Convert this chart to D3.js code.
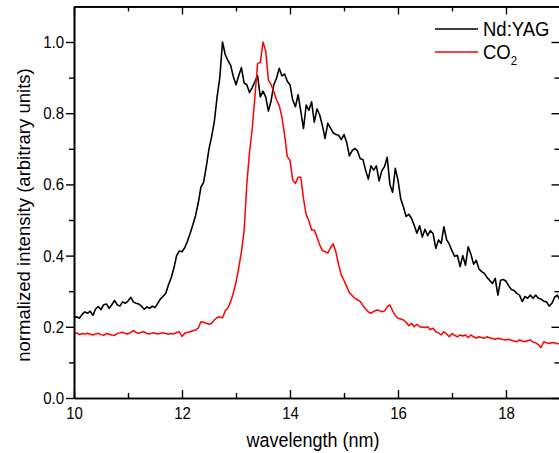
<!DOCTYPE html>
<html><head><meta charset="utf-8">
<script src="https://cdn.jsdelivr.net/npm/d3@7"></script>
<style>
body{margin:0;background:#fff;}
svg{display:block;}
text{font-family:"Liberation Sans",Arial,Helvetica,sans-serif;fill:#000;}
</style>
</head><body>
<svg id="chart" width="559" height="453"></svg>
<script>
// ---- data ----
const xTickValues = [10, 12, 14, 16, 18];
const yTickValues = [0.0, 0.2, 0.4, 0.6, 0.8, 1.0];
const seriesNames = ["Nd:YAG", "CO2"];
const seriesColors = ["#000000", "#ff0000"];
const wavelengthStart = 10;
const wavelengthStep = 0.05;

// Nd:YAG, 10.00 .. 19.00 nm every 0.05 nm
const ndyag = [
 0.225,0.228,0.224,0.235,0.242,0.238,0.244,0.232,0.250,0.257,0.248,0.262,0.264,0.252,0.262,0.274,0.262,0.258,0.270,0.266,
 0.272,0.283,0.270,0.266,0.264,0.258,0.249,0.256,0.252,0.258,0.254,0.266,0.278,0.286,0.294,0.318,0.338,0.365,0.400,0.413,
 0.411,0.422,0.440,0.462,0.486,0.512,0.547,0.592,0.606,0.650,0.700,0.735,0.778,0.846,0.900,1.000,0.965,0.948,0.935,0.903,
 0.880,0.905,0.928,0.885,0.880,0.858,0.872,0.889,0.905,0.846,0.862,0.846,0.806,0.835,0.880,0.898,0.926,0.905,0.910,0.890,
 0.880,0.837,0.818,0.852,0.805,0.757,0.823,0.808,0.832,0.775,0.812,0.795,0.765,0.729,0.772,0.758,0.745,0.740,0.738,0.726,
 0.740,0.718,0.680,0.695,0.701,0.694,0.672,0.670,0.640,0.615,0.652,0.640,0.652,0.610,0.638,0.650,0.676,0.600,0.578,0.645,
 0.612,0.560,0.537,0.510,0.516,0.505,0.485,0.463,0.484,0.452,0.474,0.456,0.470,0.462,0.420,0.444,0.434,0.481,0.445,0.432,
 0.413,0.398,0.401,0.369,0.400,0.373,0.425,0.404,0.376,0.387,0.362,0.355,0.350,0.338,0.330,0.322,0.336,0.289,0.331,0.333,
 0.328,0.315,0.305,0.302,0.294,0.289,0.271,0.285,0.280,0.289,0.280,0.289,0.280,0.278,0.272,0.270,0.258,0.266,0.283,0.289,
 0.275
];

// CO2, 10.00 .. 19.00 nm every 0.05 nm
const co2 = [
 0.180,0.183,0.178,0.181,0.180,0.182,0.179,0.177,0.180,0.182,0.178,0.176,0.181,0.179,0.177,0.176,0.181,0.183,0.185,0.181,
 0.180,0.184,0.189,0.184,0.182,0.185,0.186,0.181,0.180,0.183,0.182,0.180,0.182,0.183,0.181,0.179,0.181,0.180,0.184,0.186,
 0.173,0.182,0.185,0.186,0.189,0.191,0.196,0.214,0.213,0.210,0.207,0.210,0.219,0.226,0.228,0.225,0.245,0.253,0.270,0.294,
 0.325,0.365,0.410,0.470,0.600,0.690,0.755,0.846,0.940,0.942,1.000,0.975,0.893,0.880,0.861,0.837,0.822,0.790,0.740,0.678,
 0.668,0.612,0.603,0.620,0.620,0.560,0.515,0.498,0.472,0.472,0.452,0.430,0.414,0.411,0.407,0.422,0.433,0.410,0.375,0.345,
 0.330,0.313,0.296,0.288,0.280,0.276,0.271,0.260,0.250,0.242,0.238,0.243,0.247,0.246,0.242,0.244,0.256,0.262,0.245,0.232,
 0.224,0.222,0.219,0.213,0.203,0.210,0.200,0.207,0.200,0.199,0.198,0.200,0.192,0.196,0.186,0.183,0.177,0.186,0.180,0.172,
 0.181,0.176,0.172,0.177,0.174,0.177,0.170,0.177,0.172,0.168,0.172,0.170,0.168,0.172,0.169,0.167,0.165,0.168,0.166,0.164,
 0.163,0.165,0.162,0.160,0.158,0.163,0.160,0.158,0.161,0.163,0.157,0.155,0.150,0.142,0.158,0.155,0.153,0.156,0.155,0.152,
 0.154
];

const wavelengths = ndyag.map((_, i) => wavelengthStart + i * wavelengthStep);

// ---- layout ----
const svg = d3.select("#chart");
const pLeft = 74, pRight = 560, pTop = 6.4, pBottom = 398;
const x = d3.scaleLinear().domain([10, 19]).range([pLeft, pRight]);
const y = d3.scaleLinear().domain([0, 1.1]).range([pBottom, pTop]);
const STRETCH = 1.14; // the reference text is slightly taller than wide

function stretch(sel, s) {
  sel.each(function () {
    const t = d3.select(this);
    const xx = +t.attr("x") || 0, yy = +t.attr("y") || 0;
    t.attr("x", 0).attr("y", 0).attr("transform", `translate(${xx},${yy}) scale(1,${s})`);
  });
}

svg.append("defs").append("clipPath").attr("id", "plotclip")
  .append("rect").attr("x", pLeft).attr("y", pTop).attr("width", pRight - pLeft).attr("height", pBottom - pTop);

// curves
const line = d3.line().x((d, i) => x(wavelengths[i])).y(d => y(d));
const widths = [1.6, 1.5];
[ndyag, co2].forEach((s, k) => {
  svg.append("path").datum(s)
    .attr("clip-path", "url(#plotclip)")
    .attr("fill", "none")
    .attr("stroke", seriesColors[k])
    .attr("stroke-width", widths[k])
    .attr("stroke-linejoin", "round")
    .attr("d", line);
});

const minorX = d3.range(11, 19.5, 2);
const minorY = [0.1, 0.3, 0.5, 0.7, 0.9];

function styleAxis(g) {
  g.selectAll(".domain").attr("stroke", "#000").attr("stroke-width", 1.6);
  g.selectAll(".tick line").attr("stroke", "#000").attr("stroke-width", 1.4);
  g.selectAll("text").attr("font-size", 15).attr("font-family", '"Liberation Sans", Arial, sans-serif');
}

// bottom axis (ticks inward)
svg.append("g").attr("transform", `translate(0,${pBottom})`)
  .call(d3.axisBottom(x).tickValues(xTickValues).tickSizeInner(-8).tickSizeOuter(0).tickPadding(8.5).tickFormat(d3.format("d")))
  .call(styleAxis)
  .call(g => stretch(g.selectAll("text"), STRETCH));
svg.append("g").attr("transform", `translate(0,${pBottom})`)
  .call(d3.axisBottom(x).tickValues(minorX).tickSizeInner(-5).tickSizeOuter(0).tickFormat(""))
  .call(styleAxis);
// top axis
svg.append("g").attr("transform", `translate(0,${pTop})`)
  .call(d3.axisTop(x).tickValues(xTickValues).tickSizeInner(-8).tickSizeOuter(0).tickFormat(""))
  .call(styleAxis);
svg.append("g").attr("transform", `translate(0,${pTop})`)
  .call(d3.axisTop(x).tickValues(minorX).tickSizeInner(-5).tickSizeOuter(0).tickFormat(""))
  .call(styleAxis);
// left axis (ticks outward)
svg.append("g").attr("transform", `translate(${pLeft},0)`)
  .call(d3.axisLeft(y).tickValues(yTickValues).tickSizeInner(8).tickSizeOuter(0).tickPadding(2).tickFormat(d3.format(".1f")))
  .call(styleAxis)
  .call(g => stretch(g.selectAll("text"), STRETCH));
svg.append("g").attr("transform", `translate(${pLeft},0)`)
  .call(d3.axisLeft(y).tickValues(minorY).tickSizeInner(5).tickSizeOuter(0).tickFormat(""))
  .call(styleAxis);
// right axis (ticks inward)
svg.append("g").attr("transform", `translate(${pRight - 0.5},0)`)
  .call(d3.axisRight(y).tickValues(yTickValues).tickSizeInner(-8).tickSizeOuter(0).tickFormat(""))
  .call(styleAxis);
svg.append("g").attr("transform", `translate(${pRight - 0.5},0)`)
  .call(d3.axisRight(y).tickValues(minorY).tickSizeInner(-5).tickSizeOuter(0).tickFormat(""))
  .call(styleAxis);

// axis titles
svg.append("text").attr("transform", `translate(${(pLeft + pRight) / 2 - 4},447) scale(1,1.12)`)
  .attr("text-anchor", "middle").attr("font-size", 18).text("wavelength (nm)");
svg.append("text").attr("transform", `translate(30,215) rotate(-90) scale(1.03,1)`)
  .attr("text-anchor", "middle").attr("font-size", 18).text("normalized intensity (arbitrary units)");

// legend
const legend = svg.append("g");
const legY = [29, 52];
seriesNames.forEach((n, k) => {
  legend.append("line").attr("x1", 435).attr("x2", 478).attr("y1", legY[k]).attr("y2", legY[k])
    .attr("stroke", seriesColors[k]).attr("stroke-width", 1.5);
});
legend.append("text").attr("transform", `translate(483,${legY[0] + 6.5}) scale(1,1.05)`).attr("font-size", 18.5).text("Nd:YAG");
const co2Text = legend.append("text").attr("transform", `translate(483,${legY[1] + 6.5}) scale(1,1.05)`).attr("font-size", 18.5);
co2Text.append("tspan").text("CO");
co2Text.append("tspan").attr("font-size", 11.5).attr("dy", 6).text("2");
</script>
</body></html>
